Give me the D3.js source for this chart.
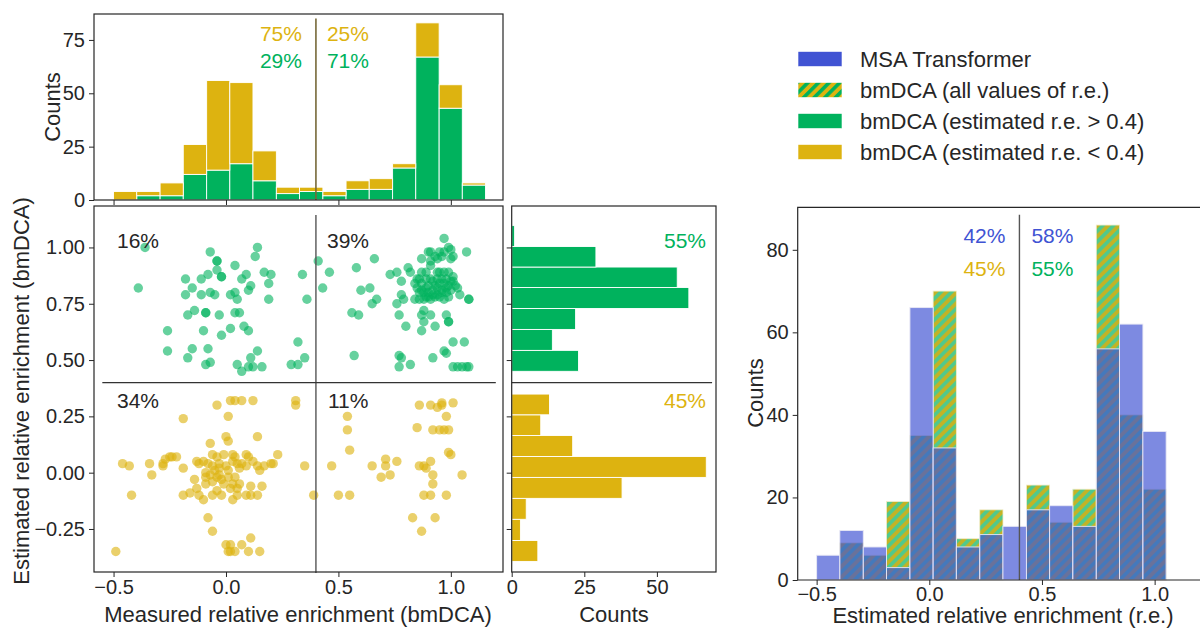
<!DOCTYPE html>
<html>
<head>
<meta charset="utf-8">
<script src="https://cdn.jsdelivr.net/npm/d3@7"></script>
<style>
body { margin: 0; background: #fff; }
svg { font-family: "Liberation Sans", Arial, sans-serif; }
</style>
</head>
<body>
<script>
// shared histogram bins (relative enrichment)
const binEdges = [-0.5, -0.397, -0.293, -0.19, -0.086, 0.017, 0.12, 0.224, 0.327,
  0.431, 0.534, 0.637, 0.741, 0.844, 0.948, 1.051, 1.154];

// top marginal: measured r.e., split by estimated r.e.
const topGreen  = [0, 2, 2, 12, 14, 17, 9, 3, 4, 2, 5, 5, 15, 67, 43, 7];
const topYellow = [4, 2, 6, 14, 42, 38, 14, 3, 2, 2, 4, 5, 2, 16, 11, 1];

// right panel: estimated r.e.
const msaCounts   = [6, 12, 8, 3, 66, 32, 8, 11, 13, 17, 18, 13, 56, 62, 36, 0];
const bmdcaCounts = [0, 9, 6, 19, 35, 70, 10, 17, 0, 23, 14, 22, 86, 40, 22, 0];

// side marginal: estimated r.e. (bmDCA)
const sideGreenEdges  = [0.450, 0.543, 0.636, 0.729, 0.822, 0.913, 1.004, 1.097];
const sideGreenCounts = [23, 14, 22, 61, 57, 29, 1];
const sideYellowEdges  = [-0.394, -0.301, -0.207, -0.114, -0.021, 0.072, 0.165, 0.257, 0.349];
const sideYellowCounts = [9, 3, 5, 38, 67, 21, 10, 13];

// scatter: [measured, estimated]
const greenPts = [
  [-0.36,1.00],[-0.39,0.82],[0.14,1.00],[0.13,0.96],[-0.07,0.98],[-0.04,0.94],[-0.04,0.94],[0.04,0.92],
  [-0.04,0.90],[-0.02,0.87],[-0.02,0.87],[0.09,0.88],[0.07,0.86],[0.17,0.89],[0.20,0.88],[0.19,0.84],
  [0.19,0.77],[0.34,0.88],[0.36,0.77],[-0.18,0.86],[-0.11,0.86],[-0.08,0.88],[-0.15,0.82],[-0.18,0.79],
  [-0.11,0.79],[-0.07,0.80],[-0.05,0.79],[0.02,0.79],[0.04,0.80],[0.05,0.77],[0.11,0.83],[0.10,0.81],
  [-0.17,0.70],[-0.14,0.72],[-0.09,0.71],[-0.09,0.71],[-0.03,0.70],[0.04,0.71],[0.06,0.71],[-0.26,0.63],
  [-0.10,0.63],[0.02,0.64],[0.08,0.65],[0.10,0.63],[-0.02,0.61],[-0.26,0.54],[-0.15,0.55],[-0.08,0.55],
  [-0.17,0.51],[-0.09,0.48],[-0.07,0.49],[0.05,0.48],[0.07,0.45],[0.11,0.51],[0.14,0.54],[0.10,0.47],
  [0.12,0.47],[0.16,0.47],[0.29,0.48],[0.32,0.48],[0.32,0.58],[0.35,0.51],
  [0.41,0.94],[0.46,0.89],[0.43,0.82],[0.58,0.91],[0.66,0.95],[0.60,0.81],[0.64,0.82],[0.67,0.77],
  [0.65,0.75],[0.56,0.71],[0.59,0.70],[0.57,0.52],[0.78,0.85],[0.73,0.88],[0.76,0.89],[0.81,0.91],
  [0.82,0.89],[0.78,0.79],[0.79,0.77],[0.76,0.75],[0.77,0.70],[0.80,0.65],[0.87,0.63],[0.88,0.67],
  [0.87,0.70],[0.88,0.72],[0.91,0.70],[0.93,0.65],[0.98,0.70],[0.99,0.67],[0.99,0.67],[0.77,0.52],
  [0.78,0.51],[0.77,0.47],[0.82,0.48],[0.92,0.51],[0.97,0.54],[0.98,0.53],[1.01,0.58],[1.06,0.58],
  [1.01,0.47],[1.03,0.47],[1.05,0.47],[1.07,0.47],[1.08,0.47],[0.97,1.04],[1.07,0.98],[1.08,0.77],
  [1.08,0.77],[1.04,0.79],
  [0.90,0.98],[0.91,0.98],[0.93,0.96],[0.95,0.98],[0.96,0.96],[0.97,0.98],[0.99,1.00],[1.00,0.99],
  [1.00,0.95],[1.01,0.96],[0.87,0.95],[0.94,0.95],[0.91,0.94],[0.91,0.92],[0.94,0.89],[0.95,0.89],
  [0.97,0.89],[0.99,0.89],[1.01,0.87],[0.87,0.89],[0.89,0.89],[0.85,0.86],[0.86,0.86],[0.89,0.86],
  [0.91,0.86],[0.92,0.85],[0.94,0.86],[0.96,0.86],[0.98,0.86],[1.00,0.85],[1.01,0.85],[0.84,0.84],
  [1.02,0.83],[0.85,0.82],[0.87,0.81],[0.89,0.82],[0.92,0.81],[0.94,0.82],[0.96,0.81],[0.98,0.82],
  [1.00,0.81],[1.03,0.82],[0.84,0.77],[0.86,0.77],[0.89,0.78],[0.91,0.77],[0.93,0.78],[0.95,0.78],
  [0.99,0.78],[0.86,0.80],[0.88,0.80],[0.90,0.80],[0.92,0.79],[0.94,0.79],[0.96,0.80],[0.98,0.80],
  [0.87,0.84],[0.90,0.83],[0.93,0.83],[0.95,0.84],[0.97,0.84],[0.99,0.83],[0.88,0.77],[0.90,0.78],
  [0.97,0.77]
];
const yellowPts = [
  [-0.49,-0.35],[-0.42,-0.10],[-0.46,0.04],[-0.43,0.03],[-0.34,0.04],[-0.33,-0.01],[-0.28,0.03],[-0.28,0.04],
  [-0.27,0.06],[-0.25,0.07],[-0.24,0.07],[-0.22,0.07],[-0.19,0.24],[-0.19,0.02],[-0.19,-0.10],[-0.16,-0.09],
  [-0.14,-0.03],[-0.13,0.05],[-0.12,0.04],[-0.13,-0.07],[-0.12,-0.10],[-0.10,-0.12],[-0.08,-0.20],[-0.06,-0.26],
  [-0.04,0.30],[0.01,0.25],[0.02,0.32],[0.04,0.32],[0.07,0.32],[0.12,0.32],[0.31,0.32],[0.31,0.30],
  [0.00,0.16],[0.01,0.14],[-0.07,0.13],[0.14,0.16],[0.23,0.08],[0.35,0.03],
  [-0.06,0.08],[-0.04,0.07],[-0.01,0.08],[0.03,0.08],[0.04,0.07],[0.09,0.08],[0.10,0.07],
  [-0.10,0.05],[-0.08,0.04],[-0.06,0.03],[-0.03,0.04],[0.00,0.03],[0.03,0.05],[0.05,0.04],[0.07,0.04],
  [0.09,0.03],[0.12,0.05],[0.14,0.03],[0.17,0.03],[0.20,0.04],[0.21,0.04],
  [-0.09,0.00],[-0.05,0.01],[-0.03,0.02],[0.01,0.01],[0.06,0.02],[0.15,0.01],
  [-0.09,-0.02],[-0.07,-0.01],[-0.04,-0.02],[-0.02,-0.03],[0.01,-0.02],[0.04,-0.02],[-0.03,-0.01],
  [-0.09,-0.05],[-0.06,-0.04],[-0.01,-0.05],[0.03,-0.05],[0.06,-0.05],[0.11,-0.06],[0.16,-0.06],[0.02,-0.07],
  [0.05,-0.07],[-0.04,-0.08],[-0.06,-0.10],[-0.02,-0.10],[0.03,-0.12],[0.05,-0.10],[0.09,-0.10],[0.11,-0.10],
  [0.14,-0.10],
  [0.00,-0.32],[0.02,-0.32],[0.11,-0.29],[0.07,-0.32],[0.01,-0.35],[0.02,-0.35],[0.04,-0.35],[0.10,-0.35],
  [0.15,-0.35],
  [0.39,-0.10],[0.47,0.03],[0.54,0.25],[0.54,0.19],[0.55,0.10],[0.50,-0.10],[0.55,-0.10],[0.65,0.03],
  [0.71,0.06],[0.71,0.03],[0.76,0.05],[0.69,-0.02],[0.73,-0.01],[0.86,0.30],[0.91,0.30],[0.94,0.29],
  [0.96,0.31],[0.96,0.30],[1.01,0.31],[0.98,0.25],[0.85,0.20],[0.92,0.19],[0.95,0.19],[0.97,0.19],
  [0.99,0.19],[0.99,0.09],[1.00,0.08],[0.86,0.03],[0.88,0.03],[0.89,0.02],[0.91,0.05],[0.92,-0.01],
  [0.92,-0.05],[1.05,-0.01],[0.88,-0.10],[0.91,-0.10],[0.98,-0.10],[0.83,-0.20],[0.93,-0.20],[0.87,-0.26]
];

const legendLabels = ["MSA Transformer", "bmDCA (all values of r.e.)",
  "bmDCA (estimated r.e. > 0.4)", "bmDCA (estimated r.e. < 0.4)"];

const GREEN = "#00b25d", YELLOW = "#ddb310", BLUE = "#4053d3", INK = "#262626";

const svg = d3.select("body").append("svg").attr("width", 1200).attr("height", 628);

// hatch patterns: one for the legend, a slightly muddier one for the plot
const defs = svg.append("defs");
function hatch(id, bg, fg) {
  const p = defs.append("pattern").attr("id", id)
    .attr("patternUnits", "userSpaceOnUse")
    .attr("width", 7.5).attr("height", 7.5)
    .attr("patternTransform", "rotate(45)");
  p.append("rect").attr("width", 7.5).attr("height", 7.5).attr("fill", bg);
  p.append("rect").attr("width", 3.6).attr("height", 7.5).attr("fill", fg);
}
hatch("hatchLegend", YELLOW, GREEN);
hatch("hatchPlot", "#c2b326", "#4fc98d");

function styleAxis(g) {
  g.select(".domain").remove();
  g.selectAll(".tick line").attr("stroke", INK).attr("stroke-width", 1);
  g.selectAll(".tick text").attr("font-size", 20).attr("fill", INK)
    .attr("font-family", "Liberation Sans, Arial, sans-serif");
}
function frame(x0, y0, x1, y1) {
  svg.append("rect").attr("x", x0).attr("y", y0)
    .attr("width", x1 - x0).attr("height", y1 - y0)
    .attr("fill", "none").attr("stroke", INK).attr("stroke-width", 1.2);
}
function label(x, y, txt, color, anchor, rot, size) {
  const t = svg.append("text").attr("font-size", size || 21).attr("fill", color || INK)
    .attr("text-anchor", anchor || "start").text(txt);
  if (rot) t.attr("transform", `translate(${x},${y}) rotate(-90)`);
  else t.attr("x", x).attr("y", y);
  return t;
}

// ---------- top histogram ----------
const xTop = d3.scaleLinear().domain([-0.587, 1.232]).range([94, 503]);
const yTop = d3.scaleLinear().domain([0, 87.15]).range([200, 14]);
const bins = d3.range(topGreen.length);

const gTop = svg.append("g");
gTop.selectAll("rect.g").data(bins).enter().append("rect")
  .attr("x", i => xTop(binEdges[i])).attr("width", i => xTop(binEdges[i + 1]) - xTop(binEdges[i]))
  .attr("y", i => yTop(topGreen[i])).attr("height", i => yTop(0) - yTop(topGreen[i]))
  .attr("fill", GREEN).attr("stroke", "#fff").attr("stroke-width", 0.9);
gTop.selectAll("rect.y").data(bins).enter().append("rect")
  .attr("x", i => xTop(binEdges[i])).attr("width", i => xTop(binEdges[i + 1]) - xTop(binEdges[i]))
  .attr("y", i => yTop(topGreen[i] + topYellow[i]))
  .attr("height", i => yTop(topGreen[i]) - yTop(topGreen[i] + topYellow[i]))
  .attr("fill", YELLOW).attr("stroke", "#fff").attr("stroke-width", 0.9);

svg.append("line").attr("x1", xTop(0.4)).attr("x2", xTop(0.4))
  .attr("y1", yTop(0)).attr("y2", yTop(85))
  .attr("stroke", "#766838").attr("stroke-width", 1.6);

svg.append("g").attr("transform", "translate(94,0)")
  .call(d3.axisLeft(yTop).tickValues([0, 25, 50, 75]).tickSize(5).tickPadding(4))
  .call(styleAxis);
svg.append("g").attr("transform", "translate(0,200)")
  .call(d3.axisBottom(xTop).tickValues([-0.5, 0, 0.5, 1]).tickSize(5).tickFormat(""))
  .call(styleAxis);
frame(94, 14, 503, 200);

label(xTop(0.4) - 14, 41, "75%", YELLOW, "end");
label(xTop(0.4) - 14, 68, "29%", GREEN, "end");
label(xTop(0.4) + 11, 41, "25%", YELLOW, "start");
label(xTop(0.4) + 11, 68, "71%", GREEN, "start");
label(60, 107, "Counts", INK, "middle", true, 22);

// ---------- scatter ----------
const yS = d3.scaleLinear().domain([-0.441, 1.184]).range([572, 206]);
const gS = svg.append("g");
gS.selectAll("circle.y").data(yellowPts).enter().append("circle")
  .attr("cx", d => xTop(d[0])).attr("cy", d => yS(d[1])).attr("r", 4.7)
  .attr("fill", YELLOW).attr("fill-opacity", 0.62);
gS.selectAll("circle.g").data(greenPts).enter().append("circle")
  .attr("cx", d => xTop(d[0])).attr("cy", d => yS(d[1])).attr("r", 4.7)
  .attr("fill", GREEN).attr("fill-opacity", 0.6);

svg.append("line").attr("x1", xTop(0.4)).attr("x2", xTop(0.4))
  .attr("y1", yS(-0.445)).attr("y2", yS(1.144))
  .attr("stroke", "#555").attr("stroke-width", 1.4);
svg.append("line").attr("x1", xTop(-0.55)).attr("x2", xTop(1.2))
  .attr("y1", yS(0.4)).attr("y2", yS(0.4))
  .attr("stroke", "#333").attr("stroke-width", 1.4);

svg.append("g").attr("transform", "translate(0,572)")
  .call(d3.axisBottom(xTop).tickValues([-0.5, 0, 0.5, 1]).tickSize(5).tickPadding(2.5)
    .tickFormat(d3.format(".1f")))
  .call(styleAxis);
svg.append("g").attr("transform", "translate(94,0)")
  .call(d3.axisLeft(yS).tickValues([-0.25, 0, 0.25, 0.5, 0.75, 1]).tickSize(5).tickPadding(4)
    .tickFormat(d3.format(".2f")))
  .call(styleAxis);
frame(94, 206, 503, 572);

label(117, 248, "16%");
label(327, 248, "39%");
label(117, 408, "34%");
label(328, 408, "11%");
label(298, 622, "Measured relative enrichment (bmDCA)", INK, "middle", false, 22);
label(29, 391, "Estimated relative enrichment (bmDCA)", INK, "middle", true, 22);

// ---------- side marginal ----------
const xM = d3.scaleLinear().domain([0, 70.35]).range([511.7, 716]);
const gM = svg.append("g");
gM.selectAll("rect.g").data(sideGreenCounts).enter().append("rect")
  .attr("x", xM(0)).attr("width", d => xM(d) - xM(0))
  .attr("y", (d, i) => yS(sideGreenEdges[i + 1]))
  .attr("height", (d, i) => yS(sideGreenEdges[i]) - yS(sideGreenEdges[i + 1]))
  .attr("fill", GREEN).attr("stroke", "#fff").attr("stroke-width", 0.9);
gM.selectAll("rect.y").data(sideYellowCounts).enter().append("rect")
  .attr("x", xM(0)).attr("width", d => xM(d) - xM(0))
  .attr("y", (d, i) => yS(sideYellowEdges[i + 1]))
  .attr("height", (d, i) => yS(sideYellowEdges[i]) - yS(sideYellowEdges[i + 1]))
  .attr("fill", YELLOW).attr("stroke", "#fff").attr("stroke-width", 0.9);
svg.append("line").attr("x1", xM(0)).attr("x2", xM(69))
  .attr("y1", yS(0.4)).attr("y2", yS(0.4))
  .attr("stroke", "#333").attr("stroke-width", 1.4);

svg.append("g").attr("transform", "translate(0,572)")
  .call(d3.axisBottom(xM).tickValues([0, 25, 50]).tickSize(5).tickPadding(2.5))
  .call(styleAxis);
svg.append("g").attr("transform", "translate(511.7,0)")
  .call(d3.axisLeft(yS).tickValues([-0.25, 0, 0.25, 0.5, 0.75, 1]).tickSize(5).tickFormat(""))
  .call(styleAxis);
frame(511.7, 206, 716, 572);

label(706, 248, "55%", GREEN, "end");
label(706, 408, "45%", YELLOW, "end");
label(614, 622, "Counts", INK, "middle", false, 22);

// ---------- right histogram ----------
const xR = d3.scaleLinear().domain([-0.584, 1.188]).range([797.7, 1197]);
const yR = d3.scaleLinear().domain([0, 90.3]).range([580, 207.3]);
const gR = svg.append("g");
gR.selectAll("rect.h").data(bins).enter().append("rect")
  .attr("x", i => xR(binEdges[i])).attr("width", i => xR(binEdges[i + 1]) - xR(binEdges[i]))
  .attr("y", i => yR(bmdcaCounts[i])).attr("height", i => yR(0) - yR(bmdcaCounts[i]))
  .attr("fill", "url(#hatchPlot)").attr("stroke", "#f2ecc8").attr("stroke-width", 0.8);
gR.selectAll("rect.m").data(bins).enter().append("rect")
  .attr("x", i => xR(binEdges[i])).attr("width", i => xR(binEdges[i + 1]) - xR(binEdges[i]))
  .attr("y", i => yR(msaCounts[i])).attr("height", i => yR(0) - yR(msaCounts[i]))
  .attr("fill", BLUE).attr("fill-opacity", 0.68)
  .attr("stroke", "#e8e8f4").attr("stroke-width", 0.9);

svg.append("line").attr("x1", xR(0.4)).attr("x2", xR(0.4))
  .attr("y1", yR(0)).attr("y2", yR(88.5))
  .attr("stroke", "#555").attr("stroke-width", 1.4);

svg.append("g").attr("transform", "translate(0,580)")
  .call(d3.axisBottom(xR).tickValues([-0.5, 0, 0.5, 1]).tickSize(5).tickPadding(2)
    .tickFormat(d3.format(".1f")))
  .call(styleAxis);
svg.append("g").attr("transform", "translate(797.7,0)")
  .call(d3.axisLeft(yR).tickValues([0, 20, 40, 60, 80]).tickSize(5).tickPadding(4))
  .call(styleAxis);
svg.append("path").attr("d", "M1200,207.3H797.7V580H1200")
  .attr("fill", "none").attr("stroke", INK).attr("stroke-width", 1.2);

label(xR(0.4) - 14, 243, "42%", BLUE, "end");
label(xR(0.4) - 14, 276, "45%", YELLOW, "end");
label(xR(0.4) + 12, 243, "58%", BLUE, "start");
label(xR(0.4) + 12, 276, "55%", GREEN, "start");
label(763, 393, "Counts", INK, "middle", true, 22);
label(1003, 623, "Estimated relative enrichment (r.e.)", INK, "middle", false, 22);

// ---------- legend ----------
const legendFill = [BLUE, "url(#hatchLegend)", GREEN, YELLOW];
const lg = svg.append("g").attr("transform", "translate(798,59)");
const rows = lg.selectAll("g").data(legendLabels).enter().append("g")
  .attr("transform", (d, i) => `translate(0,${i * 31})`);
rows.append("rect").attr("x", 0).attr("y", -7.5).attr("width", 44).attr("height", 15)
  .attr("fill", (d, i) => legendFill[i]).attr("stroke", "#fff").attr("stroke-width", 0.6);
rows.append("text").attr("x", 62).attr("y", 7.5).attr("font-size", 22).attr("fill", INK)
  .text(d => d);
</script>
</body>
</html>
